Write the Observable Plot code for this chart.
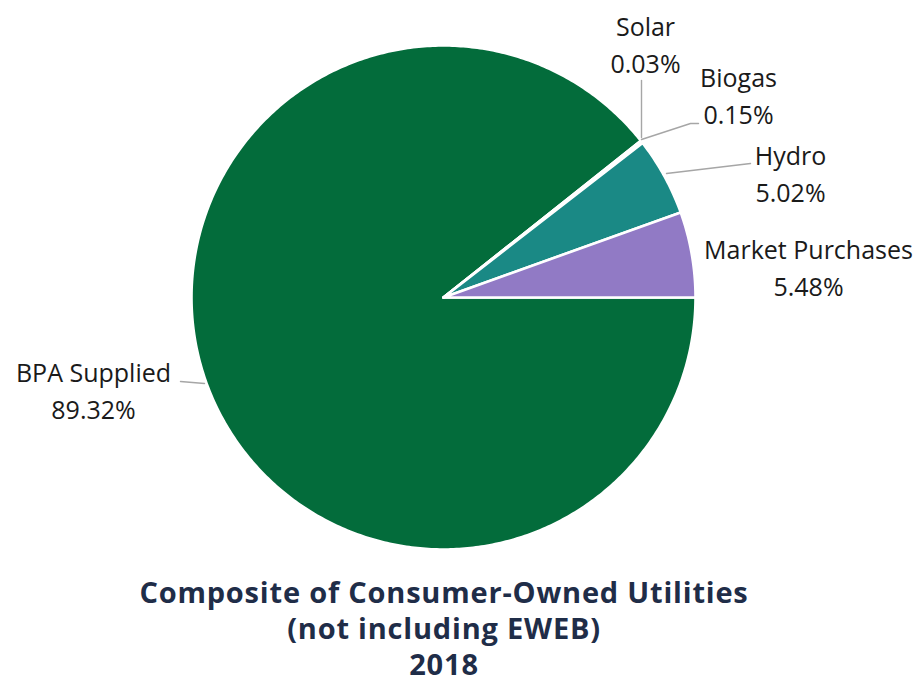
<!DOCTYPE html>
<html>
<head>
<meta charset="utf-8">
<script src="https://cdn.jsdelivr.net/npm/d3@7"></script>
<script src="https://cdn.jsdelivr.net/npm/@observablehq/plot@0.6"></script>
<style>
  html, body { margin: 0; padding: 0; background: #ffffff; }
  #chart { width: 918px; }
  #title {
    width: 888px;
    margin-top: 4px;
    text-align: center;
    font-family: "Open Sans", sans-serif;
    font-weight: 700;
    font-size: 29px;
    letter-spacing: 0.8px;
    line-height: 36px;
    color: #1f2d48;
  }
</style>
</head>
<body>
<div id="chart"></div>
<div id="title">Composite of Consumer-Owned Utilities<br>(not including EWEB)<br>2018</div>
<script>
// ---- data ----
const categories = ["BPA Supplied", "Solar", "Biogas", "Hydro", "Market Purchases"];
const shares = [89.32, 0.03, 0.15, 5.02, 5.48];
const percentLabels = ["89.32%", "0.03%", "0.15%", "5.02%", "5.48%"];

// ---- style / layout ----
const colors = ["#036c3b", "#f0f0f0", "#f0f0f0", "#1a8985", "#917ac5"];
const W = 918, H = 570;
const cx = 443, cy = 297, R = 252;
// label block centres and leader lines, in pixels
const labelPos = {
  "BPA Supplied": [93, 388],
  "Solar": [645, 42],
  "Biogas": [738, 93],
  "Hydro": [790, 171],
  "Market Purchases": [808, 265]
};
const leaderPx = {
  "BPA Supplied": [[180, 381], [204, 383]],
  "Solar": [[641, 80], [641, 137]],
  "Biogas": [[698, 123], [690, 123], [641, 139]],
  "Hydro": [[750, 163], [666, 173]]
};
const ux = px => (px - cx) / R;
const uy = py => (cy - py) / R;

// ---- slice geometry from shares ----
const total = d3.sum(shares);
const slicePts = [];
let acc = 0;
categories.forEach((name, i) => {
  const a0 = -acc / total * 2 * Math.PI;
  acc += shares[i];
  const a1 = -acc / total * 2 * Math.PI;
  const n = Math.max(2, Math.ceil(Math.abs(a1 - a0) * 90));
  slicePts.push({name, x: 0, y: 0});
  for (let k = 0; k <= n; k++) {
    const a = a0 + (a1 - a0) * k / n;
    slicePts.push({name, x: Math.cos(a), y: Math.sin(a)});
  }
});

const labels = categories.map((name, i) => ({
  name,
  text: name + "\n" + percentLabels[i],
  x: ux(labelPos[name][0]),
  y: uy(labelPos[name][1])
}));

const leaders = [];
Object.entries(leaderPx).forEach(([name, pts]) => {
  pts.forEach(([px, py]) => leaders.push({name, x: ux(px), y: uy(py)}));
});

const chart = Plot.plot({
  width: W,
  height: H,
  margin: 0,
  x: {domain: [ux(0), ux(W)], range: [0, W], axis: null},
  y: {domain: [uy(H), uy(0)], range: [H, 0], axis: null},
  color: {domain: categories, range: colors},
  style: {background: "white"},
  marks: [
    Plot.line(slicePts, {
      x: "x", y: "y", z: "name", fill: "name",
      stroke: "white", strokeWidth: 2.6, strokeLinejoin: "round",
      curve: "linear-closed"
    }),
    Plot.line(leaders, {
      x: "x", y: "y", z: "name",
      stroke: "#a6a6a6", strokeWidth: 1.4
    }),
    Plot.text(labels, {
      x: "x", y: "y", text: "text",
      fontSize: 25, lineHeight: 1.5,
      fontFamily: "Open Sans, sans-serif",
      fill: "#1a1a1a", textAnchor: "middle"
    })
  ]
});
document.getElementById("chart").appendChild(chart);
</script>
</body>
</html>
